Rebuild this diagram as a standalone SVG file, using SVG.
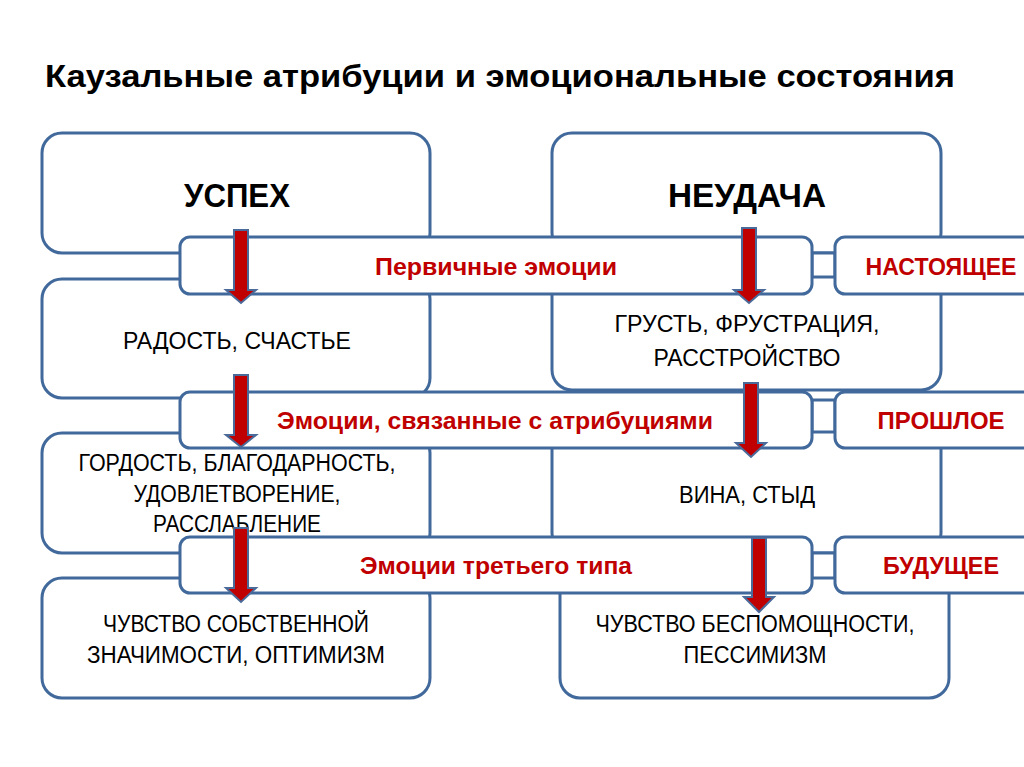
<svg xmlns="http://www.w3.org/2000/svg" width="1024" height="767" viewBox="0 0 1024 767">
  <style>
    .box { fill: #ffffff; stroke: #41699B; stroke-width: 3; }
    .band { fill: #ffffff; stroke: #41699B; stroke-width: 3; }
    .t { font-family: "Liberation Sans", Arial, sans-serif; fill: #000000; text-anchor: middle; }
    .reg { font-size: 23px; }
    .head { font-size: 34px; font-weight: bold; }
    .red { font-family: "Liberation Sans", Arial, sans-serif; fill: #C00000; font-weight: bold; text-anchor: middle; }
    .arrow { fill: #C00000; stroke: #4A6B9A; stroke-width: 2; stroke-linejoin: miter; }
  </style>
  <rect width="1024" height="767" fill="#ffffff"/>

  <text x="45" y="87" font-family="Liberation Sans, Arial, sans-serif" font-size="32" font-weight="bold" fill="#000" textLength="910" lengthAdjust="spacingAndGlyphs">Каузальные атрибуции и эмоциональные состояния</text>

  <g id="box-uspeh">
    <rect class="box" x="42" y="133" width="388" height="120" rx="20"/>
    <text class="t head" x="237" y="207" textLength="106" lengthAdjust="spacingAndGlyphs">УСПЕХ</text>
  </g>
  <g id="box-neudacha">
    <rect class="box" x="552" y="133" width="389" height="120" rx="20"/>
    <text class="t head" x="747" y="207" textLength="158" lengthAdjust="spacingAndGlyphs">НЕУДАЧА</text>
  </g>
  <g id="box-radost">
    <rect class="box" x="42" y="279" width="388" height="119" rx="20"/>
    <text class="t reg" x="237" y="349" textLength="228" lengthAdjust="spacingAndGlyphs">РАДОСТЬ, СЧАСТЬЕ</text>
  </g>
  <g id="box-grust">
    <rect class="box" x="552" y="270" width="389" height="120" rx="20"/>
    <text class="t reg" x="747" y="332" textLength="265" lengthAdjust="spacingAndGlyphs">ГРУСТЬ, ФРУСТРАЦИЯ,</text>
    <text class="t reg" x="747" y="366" textLength="187" lengthAdjust="spacingAndGlyphs">РАССТРОЙСТВО</text>
  </g>
  <g id="box-gordost">
    <rect class="box" x="42" y="433" width="388" height="120" rx="20"/>
    <text class="t reg" x="237" y="471" textLength="317" lengthAdjust="spacingAndGlyphs">ГОРДОСТЬ, БЛАГОДАРНОСТЬ,</text>
    <text class="t reg" x="237" y="502" textLength="207" lengthAdjust="spacingAndGlyphs">УДОВЛЕТВОРЕНИЕ,</text>
    <text class="t reg" x="237" y="532" textLength="168" lengthAdjust="spacingAndGlyphs">РАССЛАБЛЕНИЕ</text>
  </g>
  <g id="box-vina">
    <rect class="box" x="552" y="415" width="389" height="138" rx="20"/>
    <text class="t reg" x="747" y="503" textLength="136" lengthAdjust="spacingAndGlyphs">ВИНА, СТЫД</text>
  </g>
  <g id="box-znachimost">
    <rect class="box" x="42" y="578" width="388" height="120" rx="20"/>
    <text class="t reg" x="236" y="632" textLength="266" lengthAdjust="spacingAndGlyphs">ЧУВСТВО СОБСТВЕННОЙ</text>
    <text class="t reg" x="236" y="663" textLength="298" lengthAdjust="spacingAndGlyphs">ЗНАЧИМОСТИ, ОПТИМИЗМ</text>
  </g>
  <g id="box-bespomoshchnost">
    <rect class="box" x="560" y="570" width="389" height="128" rx="20"/>
    <text class="t reg" x="755" y="632" textLength="319" lengthAdjust="spacingAndGlyphs">ЧУВСТВО БЕСПОМОЩНОСТИ,</text>
    <text class="t reg" x="755" y="663" textLength="143" lengthAdjust="spacingAndGlyphs">ПЕССИМИЗМ</text>
  </g>

  <g id="links">
    <rect class="band" x="812" y="253" width="23" height="24"/>
    <rect class="band" x="812" y="400" width="23" height="32"/>
    <rect class="band" x="812" y="553" width="23" height="25"/>
  </g>

  <g id="band-primary">
    <rect class="band" x="180" y="237" width="632" height="57" rx="10"/>
    <text class="red" x="496" y="275" font-size="23" textLength="242" lengthAdjust="spacingAndGlyphs">Первичные эмоции</text>
  </g>
  <g id="band-attrib">
    <rect class="band" x="180" y="392" width="632" height="56" rx="10"/>
    <text class="red" x="495" y="429" font-size="23" textLength="436" lengthAdjust="spacingAndGlyphs">Эмоции, связанные с атрибуциями</text>
  </g>
  <g id="band-third">
    <rect class="band" x="180" y="537" width="632" height="56" rx="10"/>
    <text class="red" x="496" y="574" font-size="23" textLength="272" lengthAdjust="spacingAndGlyphs">Эмоции третьего типа</text>
  </g>

  <g id="label-present">
    <rect class="band" x="835" y="237" width="220" height="57" rx="10"/>
    <text class="red" x="941" y="275" font-size="23" textLength="151" lengthAdjust="spacingAndGlyphs">НАСТОЯЩЕЕ</text>
  </g>
  <g id="label-past">
    <rect class="band" x="835" y="392" width="220" height="56" rx="10"/>
    <text class="red" x="941" y="429" font-size="23" textLength="127" lengthAdjust="spacingAndGlyphs">ПРОШЛОЕ</text>
  </g>
  <g id="label-future">
    <rect class="band" x="835" y="537" width="220" height="56" rx="10"/>
    <text class="red" x="941" y="574" font-size="23" textLength="116" lengthAdjust="spacingAndGlyphs">БУДУЩЕЕ</text>
  </g>

  <g id="connectors">
    <path class="arrow" d="M234,230 H248 V290 H256 L241,303 L226,290 H234 Z"/>
    <path class="arrow" d="M234,375 H248 V435 H256 L241,447 L226,435 H234 Z"/>
    <path class="arrow" d="M234,528 H248 V588 H256 L241,602 L226,588 H234 Z"/>
    <path class="arrow" d="M742,228 H756 V290 H764 L749,303 L734,290 H742 Z"/>
    <path class="arrow" d="M744,383 H758 V443 H766 L751,457 L736,443 H744 Z"/>
    <path class="arrow" d="M752,538 H766 V597 H774 L759,612 L744,597 H752 Z"/>
  </g>
</svg>
